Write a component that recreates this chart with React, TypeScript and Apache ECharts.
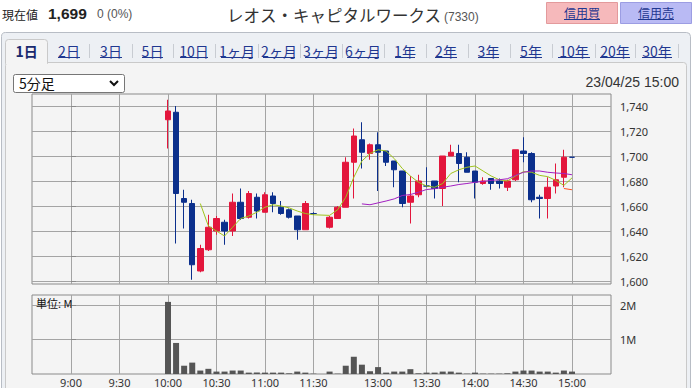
import { useEffect, useRef } from 'react';
import * as echarts from 'echarts';

// ---------- data (x = 5-minute slot index, 9:00 = 0; lunch gap makes 12:30 = 32) ----------
const CANDLE_SLOTS = [
  12, 13, 14, 15, 16, 17, 18, 19, 20, 21, 22, 23, 24, 25, 26, 27, 28, 29, 30,
  32, 33, 34, 35, 36, 37, 38, 39, 40, 41, 42, 43, 44, 45, 46, 47, 48, 49, 50,
  51, 52, 53, 54, 55, 56, 57, 58, 59, 60, 61, 62,
];
const OPEN = [
  1729, 1735, 1666, 1662, 1608, 1625, 1640, 1647, 1640, 1663, 1651, 1667, 1655, 1668, 1659, 1657, 1652, 1641, 1654,
  1643, 1650, 1659, 1695, 1713, 1702, 1709, 1704, 1696, 1688, 1663, 1669, 1676, 1680, 1674, 1700, 1702, 1699, 1688,
  1678, 1682, 1680, 1675, 1681, 1704, 1702, 1667, 1666, 1676, 1683, 1699,
];
const CLOSE = [
  1736, 1670, 1663, 1613, 1626, 1643, 1650, 1640, 1663, 1650, 1670, 1656, 1669, 1662, 1654, 1651, 1641, 1662, 1654,
  1651, 1659, 1695, 1716, 1703, 1709, 1703, 1695, 1689, 1662, 1668, 1680, 1676, 1674, 1700, 1703, 1694, 1687, 1679,
  1680, 1678, 1678, 1680, 1705, 1702, 1665, 1666, 1675, 1681, 1699, 1699,
];
const LOW = [
  1706, 1630, 1642, 1601, 1607, 1624, 1637, 1629, 1636, 1649, 1650, 1650, 1655, 1655, 1653, 1650, 1633, 1641, 1653,
  1642, 1650, 1659, 1666, 1690, 1697, 1672, 1692, 1675, 1659, 1646, 1667, 1675, 1666, 1660, 1700, 1679, 1687, 1666,
  1677, 1673, 1674, 1672, 1680, 1695, 1663, 1650, 1650, 1670, 1675, 1699,
];
const HIGH = [
  1745, 1740, 1673, 1665, 1629, 1653, 1652, 1649, 1670, 1674, 1672, 1670, 1671, 1671, 1664, 1658, 1652, 1664, 1655,
  1652, 1660, 1699, 1722, 1727, 1710, 1719, 1704, 1696, 1688, 1684, 1685, 1691, 1680, 1700, 1709, 1709, 1703, 1688,
  1683, 1682, 1682, 1681, 1705, 1715, 1703, 1669, 1683, 1694, 1705, 1699,
];
const VOLUME_M = [
  2.09, 0.9, 0.24, 0.33, 0.1, 0.15, 0.07, 0.07, 0.1, 0.1, 0.04, 0.04, 0.04, 0.04, 0.04, 0.02, 0.07, 0.04, 0.01,
  0.07, 0.01, 0.24, 0.5, 0.27, 0.08, 0.2, 0.04, 0.07, 0.07, 0.14, 0.02, 0.04, 0.04, 0.07, 0.07, 0.04, 0.01, 0.04,
  0.01, 0.01, 0.01, 0.02, 0.07, 0.1, 0.1, 0.07, 0.07, 0.04, 0.1, 0.07,
];
const MA_SHORT_SLOTS = [
  16, 17, 18, 19, 20, 21, 22, 23, 24, 25, 26, 27, 28, 29, 30,
  32, 33, 34, 35, 36, 37, 38, 39, 40, 41, 42, 43, 44, 45, 46, 47, 48, 49, 50,
  51, 52, 53, 54, 55, 56, 57, 58, 59, 60, 61, 62,
];
const MA_SHORT = [
  1662, 1644, 1640, 1636, 1643, 1650, 1652, 1655, 1659, 1661, 1660, 1658.5, 1656, 1654, 1653,
  1652.5, 1657, 1667, 1683, 1696, 1702, 1705, 1704, 1698, 1690, 1684, 1679, 1676, 1675, 1678, 1686, 1689, 1691, 1692,
  1688, 1684, 1681, 1680, 1684, 1687.5, 1687, 1684.5, 1683.5, 1680.5, 1676.5, 1682.5,
];
const MA_LONG_SLOTS = [
  36, 37, 38, 39, 40, 41, 42, 43, 44, 45, 46, 47, 48, 49, 50,
  51, 52, 53, 54, 55, 56, 57, 58, 59, 60, 61, 62,
];
const MA_LONG = [
  1661.7, 1661, 1662.5, 1664, 1665.7, 1668.4, 1669.2, 1671, 1673.2, 1673.8, 1675, 1676, 1677.2, 1678, 1679,
  1679.7, 1680.5, 1681, 1681.8, 1684.5, 1687, 1688, 1688, 1687, 1686.4, 1686, 1685,
];
const MA_EXTRA_SLOTS = [61, 62];
const MA_EXTRA = [1674, 1673];

const TIME_TICK_SLOTS = [0, 6, 12, 18, 24, 30, 38, 44, 50, 56, 62];
const TIME_TICK_LABELS = ['9:00', '9:30', '10:00', '10:30', '11:00', '11:30', '13:00', '13:30', '14:00', '14:30', '15:00'];
const PRICE_TICKS = [1600, 1620, 1640, 1660, 1680, 1700, 1720, 1740];
const VOLUME_TICKS = [1, 2];
const VOLUME_TICK_LABELS = ['1M', '2M'];

const TABS = ['1日', '2日', '3日', '5日', '10日', '1ヶ月', '2ヶ月', '3ヶ月', '6ヶ月', '1年', '2年', '3年', '5年', '10年', '20年', '30年'];

// ---------- layout ----------
const TAB_SPANS: [number, number][] = [
  [16, 37], [58, 80], [100, 122], [142, 163], [180, 208], [221, 253], [263, 295], [305, 337],
  [347, 379], [395, 415], [435, 457], [478, 499], [520, 542], [558, 590], [600, 630], [642, 672],
];
const TAB_SEPARATORS = [89, 132, 173, 215, 258, 300, 342, 384, 426, 468, 510, 552, 595, 635, 678];

const CJK = "'Noto Sans CJK JP', sans-serif";
const LAT = "'Liberation Sans', Arial, sans-serif";
const UP = '#e3163c';
const DOWN = '#0b2f8c';
const LINK = '#1f3790';

function txt(x: number, y: number, text: string, size: number, fill: string, family: string, align = 'left', weight = 'normal') {
  return {
    type: 'text',
    x,
    y,
    z: 100,
    style: {
      text,
      fill,
      fontSize: size,
      fontFamily: family,
      fontWeight: weight,
      textAlign: align,
      align,
      textVerticalAlign: 'middle',
      verticalAlign: 'middle',
    },
  };
}
function hline(x1: number, x2: number, y: number, color: string, z = 100) {
  return { type: 'line', z, shape: { x1, y1: y, x2, y2: y }, style: { stroke: color, lineWidth: 1 } };
}

export default function App() {
  const ref = useRef<HTMLDivElement>(null);

  useEffect(() => {
    if (!ref.current) return;
    const chart = echarts.init(ref.current, undefined, { renderer: 'svg' });

    const candleData = CANDLE_SLOTS.map((s, i) => [s, OPEN[i], CLOSE[i], LOW[i], HIGH[i]]);
    const volumeData = CANDLE_SLOTS.map((s, i) => [s, VOLUME_M[i]]);
    const maShort = MA_SHORT_SLOTS.map((s, i) => [s, MA_SHORT[i]]);
    const maLong = MA_LONG_SLOTS.map((s, i) => [s, MA_LONG[i]]);
    const maExtra = MA_EXTRA_SLOTS.map((s, i) => [s, MA_EXTRA[i]]);

    const X_MIN = -4.83;
    const X_MAX = 66.83;
    const gridLine = { show: true, lineStyle: { color: '#a4a4a4', width: 1 } };

    const graphics: any[] = [];
    // panel backgrounds
    graphics.push({
      type: 'rect', z: -5,
      shape: { x: 1.5, y: 32.5, width: 689, height: 370, r: 4 },
      style: { fill: '#edf0f4', stroke: '#b8bdc5', lineWidth: 1 },
    });
    graphics.push({
      type: 'rect', z: -4,
      shape: { x: 5.5, y: 62.5, width: 681, height: 340, r: 3 },
      style: { fill: '#f4f4f4', stroke: '#c9c9c9', lineWidth: 1 },
    });
    graphics.push({
      type: 'rect', z: -3,
      shape: { x: 5.5, y: 39.5, width: 42, height: 24, r: [3, 3, 0, 0] },
      style: { fill: '#f4f4f4', stroke: '#c9c9c9', lineWidth: 1 },
    });
    graphics.push({
      type: 'rect', z: -2,
      shape: { x: 6, y: 60, width: 41, height: 4 },
      style: { fill: '#f4f4f4' },
    });
    // header
    graphics.push(txt(2, 14, '現在値', 12, '#222', CJK));
    graphics.push(txt(48, 13, '1,699', 15.5, '#222', LAT, 'left', 'bold'));
    graphics.push(txt(97, 14, '0 (0%)', 12, '#555', LAT));
    graphics.push(txt(227, 15, 'レオス・キャピタルワークス', 16.5, '#333', CJK));
    graphics.push(txt(444, 17, '(7330)', 12, '#555', LAT));
    graphics.push({
      type: 'rect', z: 50,
      shape: { x: 546.5, y: 2.5, width: 71, height: 21 },
      style: { fill: '#f6b9bb', stroke: '#e39a9c', lineWidth: 1 },
    });
    graphics.push({
      type: 'rect', z: 50,
      shape: { x: 620.5, y: 2.5, width: 71, height: 21 },
      style: { fill: '#b9baf4', stroke: '#9c9de3', lineWidth: 1 },
    });
    graphics.push(txt(582, 12.5, '信用買', 12, LINK, CJK, 'center'));
    graphics.push(hline(564, 600, 19.5, LINK));
    graphics.push(txt(656, 12.5, '信用売', 12, LINK, CJK, 'center'));
    graphics.push(hline(638, 674, 19.5, LINK));
    // tabs
    TABS.forEach((t, i) => {
      const [a, b] = TAB_SPANS[i];
      const cx = (a + b) / 2;
      if (i === 0) {
        graphics.push(txt(cx, 51, t, 14, '#1a2a6e', CJK, 'center', 'bold'));
      } else {
        graphics.push(txt(cx, 51, t, 14, LINK, CJK, 'center'));
        graphics.push(hline(a, b, 57.5, LINK));
      }
    });
    TAB_SEPARATORS.forEach((x) => {
      graphics.push({
        type: 'line', z: 100,
        shape: { x1: x + 0.5, y1: 44, x2: x + 0.5, y2: 58 },
        style: { stroke: '#c8ccd2', lineWidth: 1 },
      });
    });
    // select box
    graphics.push({
      type: 'rect', z: 50,
      shape: { x: 13.5, y: 74.5, width: 111, height: 18, r: 2 },
      style: { fill: '#ffffff', stroke: '#767676', lineWidth: 1 },
    });
    graphics.push(txt(19, 83, '5分足', 14, '#111', CJK));
    graphics.push({
      type: 'polyline', z: 100,
      shape: { points: [[110, 81], [114, 85], [118, 81]] },
      style: { stroke: '#111', lineWidth: 2, fill: 'none' },
    });
    graphics.push(txt(679, 82, '23/04/25 15:00', 14, '#333', LAT, 'right'));
    graphics.push(txt(36, 302.5, '単位: M', 11, '#111', CJK));

    const option: any = {
      animation: false,
      textStyle: { fontFamily: "'Noto Sans', sans-serif" },
      graphic: { elements: graphics },
      grid: [
        {
          left: 32, top: 94, width: 579, height: 190,
          show: true, borderColor: '#8a8a8a', borderWidth: 1, backgroundColor: 'transparent',
          outerBoundsMode: 'none',
        },
        {
          left: 32, top: 295, width: 579, height: 79,
          show: true, borderColor: '#8a8a8a', borderWidth: 1, backgroundColor: 'transparent',
          outerBoundsMode: 'none',
        },
      ],
      xAxis: [
        {
          type: 'value', gridIndex: 0, min: X_MIN, max: X_MAX,
          axisLine: { show: false },
          axisTick: { show: false, customValues: TIME_TICK_SLOTS },
          axisLabel: { show: false, customValues: TIME_TICK_SLOTS },
          splitLine: gridLine,
        },
        {
          type: 'value', gridIndex: 1, min: X_MIN, max: X_MAX,
          axisLine: { show: false },
          axisTick: { show: false, customValues: TIME_TICK_SLOTS },
          axisLabel: {
            show: true,
            customValues: TIME_TICK_SLOTS,
            margin: 3,
            color: '#333',
            fontSize: 11,
            lineHeight: 10,
            fontFamily: "'Noto Sans', sans-serif",
            formatter: (v: number) => {
              const i = TIME_TICK_SLOTS.indexOf(Math.round(v));
              return i >= 0 ? TIME_TICK_LABELS[i] : '';
            },
          },
          splitLine: gridLine,
        },
      ],
      yAxis: [
        {
          type: 'value', gridIndex: 0, position: 'right', min: 1597.6, max: 1749.6,
          axisLine: { show: false },
          axisTick: { show: true, inside: false, length: 5, customValues: PRICE_TICKS, lineStyle: { color: '#8a8a8a' } },
          axisLabel: {
            customValues: PRICE_TICKS,
            margin: 9,
            color: '#333',
            fontSize: 11,
            fontFamily: "'Noto Sans', sans-serif",
            formatter: (v: number) => Math.round(v).toLocaleString('en-US'),
          },
          splitLine: gridLine,
        },
        {
          type: 'value', gridIndex: 1, position: 'right', min: 0, max: 2.29,
          axisLine: { show: false },
          axisTick: { show: true, inside: false, length: 5, customValues: VOLUME_TICKS, lineStyle: { color: '#8a8a8a' } },
          axisLabel: {
            customValues: VOLUME_TICKS,
            margin: 9,
            color: '#333',
            fontSize: 11,
            fontFamily: "'Noto Sans', sans-serif",
            formatter: (v: number) => {
              const i = VOLUME_TICKS.indexOf(Math.round(v));
              return i >= 0 ? VOLUME_TICK_LABELS[i] : '';
            },
          },
          splitLine: gridLine,
        },
      ],
      series: [
        {
          type: 'candlestick',
          xAxisIndex: 0, yAxisIndex: 0,
          data: candleData,
          encode: { x: 0, y: [1, 2, 3, 4] },
          barWidth: 6,
          itemStyle: {
            color: UP, color0: DOWN,
            borderColor: UP, borderColor0: DOWN, borderColorDoji: DOWN,
            borderWidth: 1,
          },
          z: 3,
        },
        {
          type: 'line', xAxisIndex: 0, yAxisIndex: 0, data: maShort,
          symbol: 'none', showSymbol: false,
          lineStyle: { color: '#9fc31c', width: 1 }, itemStyle: { color: '#9fc31c' }, z: 4,
        },
        {
          type: 'line', xAxisIndex: 0, yAxisIndex: 0, data: maLong,
          symbol: 'none', showSymbol: false,
          lineStyle: { color: '#a21fc0', width: 1 }, itemStyle: { color: '#a21fc0' }, z: 4,
        },
        {
          type: 'line', xAxisIndex: 0, yAxisIndex: 0, data: maExtra,
          symbol: 'none', showSymbol: false,
          lineStyle: { color: '#ff5020', width: 1 }, itemStyle: { color: '#ff5020' }, z: 4,
        },
        {
          type: 'bar', xAxisIndex: 1, yAxisIndex: 1, data: volumeData,
          barWidth: 6,
          itemStyle: { color: '#555555' },
          z: 3,
        },
      ],
    };

    chart.setOption(option);
    return () => chart.dispose();
  }, []);

  return (
    <div
      ref={ref}
      style={{ position: 'absolute', left: 0, top: 0, width: 693, height: 388 }}
    />
  );
}
